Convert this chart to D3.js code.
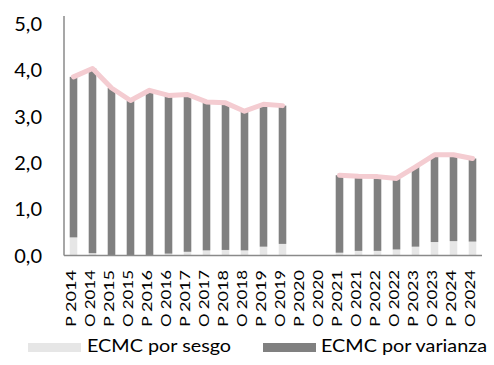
<!DOCTYPE html>
<html>
<head>
<meta charset="utf-8">
<script src="https://cdn.jsdelivr.net/npm/d3@7"></script>
<style>
  html, body { margin: 0; padding: 0; background: #fff; }
  svg { display: block; font-family: Lato, "Open Sans", sans-serif; }
</style>
</head>
<body>
<svg id="chart" width="494" height="365"></svg>
<script>
// Periods (P = primavera, O = otoño)
const categories = ["P 2014","O 2014","P 2015","O 2015","P 2016","O 2016","P 2017","O 2017",
  "P 2018","O 2018","P 2019","O 2019","P 2020","O 2020","P 2021","O 2021",
  "P 2022","O 2022","P 2023","O 2023","P 2024","O 2024"];

// Error cuadrático medio de la corrección, split into bias and variance parts
const sesgo = [0.39, 0.05, 0.01, 0.00, 0.01, 0.04, 0.08, 0.11, 0.12, 0.11, 0.19, 0.25,
  null, null, 0.06, 0.10, 0.10, 0.13, 0.19, 0.29, 0.31, 0.30];
const varianza = [3.46, 3.98, 3.60, 3.34, 3.55, 3.41, 3.39, 3.20, 3.17, 3.00, 3.07, 2.98,
  null, null, 1.67, 1.61, 1.60, 1.53, 1.72, 1.88, 1.86, 1.79];

const yTicks = [0, 1, 2, 3, 4, 5];
const seriesNames = ["ECMC por sesgo", "ECMC por varianza"];
const colors = { sesgo: "#e6e6e6", varianza: "#808080", total: "#f4ccd1", axis: "#8a8a8a" };

const svg = d3.select("#chart");
const plot = { left: 64, right: 482, top: 16, bottom: 255.5 };

const x = d3.scaleBand().domain(categories)
  .range([plot.left, plot.right]).paddingInner(0.6).paddingOuter(0.3);
const y = d3.scaleLinear().domain([0, 5]).range([plot.bottom, 23.5]);

const fmt = d3.formatLocale({ decimal: ",", thousands: ".", grouping: [3], currency: ["", " €"] }).format(".1f");

const rows = categories.map((c, i) => ({
  cat: c,
  sesgo: sesgo[i],
  varianza: varianza[i],
  total: sesgo[i] == null ? null : sesgo[i] + varianza[i]
}));
const present = rows.filter(d => d.total != null);

// stacked bars
svg.append("g").selectAll("rect").data(present).join("rect")
  .attr("x", d => x(d.cat)).attr("width", x.bandwidth())
  .attr("y", d => y(d.sesgo)).attr("height", d => y(0) - y(d.sesgo))
  .attr("fill", colors.sesgo);
svg.append("g").selectAll("rect").data(present).join("rect")
  .attr("x", d => x(d.cat)).attr("width", x.bandwidth())
  .attr("y", d => y(d.total)).attr("height", d => y(d.sesgo) - y(d.total))
  .attr("fill", colors.varianza);

// total line
const line = d3.line()
  .defined(d => d.total != null)
  .x(d => x(d.cat) + x.bandwidth() / 2)
  .y(d => y(d.total));
svg.append("path").datum(rows)
  .attr("d", line)
  .attr("fill", "none")
  .attr("stroke", colors.total)
  .attr("stroke-width", 5)
  .attr("stroke-linejoin", "round")
  .attr("stroke-linecap", "round");

// axes lines
svg.append("line").attr("x1", plot.left).attr("x2", plot.left)
  .attr("y1", plot.top).attr("y2", plot.bottom)
  .attr("stroke", colors.axis).attr("stroke-width", 1.5);
svg.append("line").attr("x1", plot.left).attr("x2", plot.right)
  .attr("y1", plot.bottom).attr("y2", plot.bottom)
  .attr("stroke", colors.axis).attr("stroke-width", 1.5);

// y tick labels
svg.append("g").selectAll("text").data(yTicks).join("text")
  .attr("x", 42).attr("y", d => y(d))
  .attr("dy", "0.36em")
  .attr("text-anchor", "end")
  .attr("font-size", 20)
  .attr("fill", "#000")
  .text(d => fmt(d));

// x tick labels, vertical
svg.append("g").selectAll("text").data(categories).join("text")
  .attr("transform", d => `translate(${x(d) + x.bandwidth() / 2 + 2},270) rotate(-90)`)
  .attr("text-anchor", "end")
  .attr("font-size", 12.5)
  .attr("textLength", 57)
  .attr("lengthAdjust", "spacingAndGlyphs")
  .attr("fill", "#000")
  .text(d => d);

// legend
const legend = [
  { name: seriesNames[0], color: colors.sesgo, sx: 28, tx: 87, tw: 144 },
  { name: seriesNames[1], color: colors.varianza, sx: 263, tx: 321, tw: 166 }
];
const lg = svg.append("g");
lg.selectAll("rect").data(legend).join("rect")
  .attr("x", d => d.sx).attr("y", 343).attr("width", 53).attr("height", 9)
  .attr("fill", d => d.color);
lg.selectAll("text").data(legend).join("text")
  .attr("x", d => d.tx).attr("y", 352)
  .attr("font-size", 18)
  .attr("textLength", d => d.tw)
  .attr("lengthAdjust", "spacingAndGlyphs")
  .attr("fill", "#000")
  .text(d => d.name);
</script>
</body>
</html>
